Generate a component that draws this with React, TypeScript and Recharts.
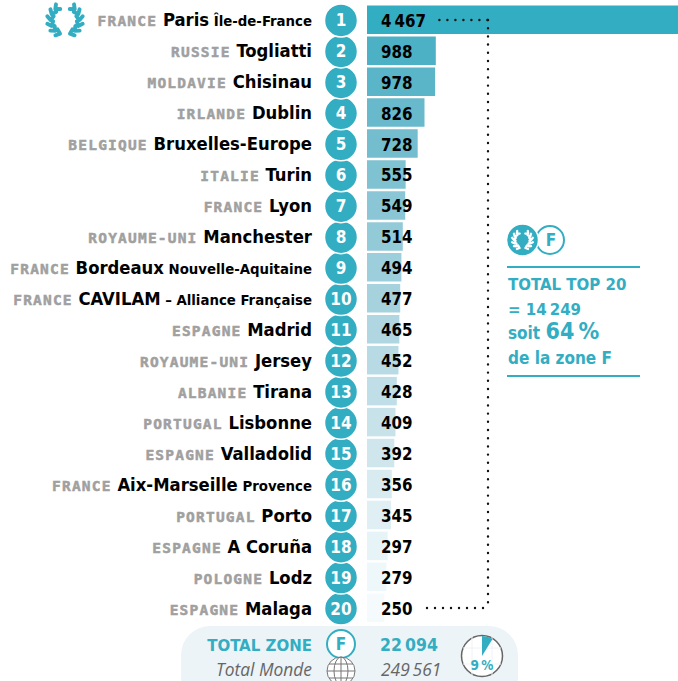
import React from "react";
import { BarChart, Bar, XAxis, YAxis, Cell, LabelList, ReferenceLine, PieChart, Pie } from "recharts";

const ranks = ["1","2","3","4","5","6","7","8","9","10","11","12","13","14","15","16","17","18","19","20"];
const countries = ["FRANCE","RUSSIE","MOLDAVIE","IRLANDE","BELGIQUE","ITALIE","FRANCE","ROYAUME-UNI","FRANCE","FRANCE","ESPAGNE","ROYAUME-UNI","ALBANIE","PORTUGAL","ESPAGNE","FRANCE","PORTUGAL","ESPAGNE","POLOGNE","ESPAGNE"];
const cities = ["Paris","Togliatti","Chisinau","Dublin","Bruxelles-Europe","Turin","Lyon","Manchester","Bordeaux","CAVILAM","Madrid","Jersey","Tirana","Lisbonne","Valladolid","Aix-Marseille","Porto","A Coruña","Lodz","Malaga"];
const regions = ["Île-de-France","","","","","","","","Nouvelle-Aquitaine","– Alliance Française","","","","","","Provence","","","",""];
const values = [4467,988,978,826,728,555,549,514,494,477,465,452,428,409,392,356,345,297,279,250];
const zoneTotal = 22094;
const worldTotal = 249561;

const TEAL = "#33adc2";
const COND = "'DejaVu Sans Condensed','DejaVu Sans'";
const MONO = "'DejaVu Sans Mono'";
const fmt = (v: number) => String(v).replace(/\B(?=(\d{3})+$)/g, "\u2009");

const rows = ranks.map((rank, i) => ({ rank, country: countries[i], city: cities[i], region: regions[i], value: values[i] }));
const chartRows = [...rows].reverse();
const sharePie = [{ name: "zone", value: zoneTotal }, { name: "rest", value: worldTotal - zoneTotal }];

function shade(i: number) {
  const u = i / 19;
  const r = Math.round(0x33 + (0xf5 - 0x33) * Math.pow(u, 0.7));
  const g = Math.round(0xad + (0xfb - 0xad) * u);
  const b = Math.round(0xc2 + (0xfd - 0xc2) * u);
  return `rgb(${r},${g},${b})`;
}

function RowTick(props: any) {
  const { y, payload } = props;
  const r = rows.find((d) => d.rank === payload.value)!;
  return (
    <g>
      <text x={312} y={y + 6.5} textAnchor="end" fontFamily={COND} fontWeight={700} fontSize={18.3} fill="#000">
        <tspan fontFamily={MONO} fontWeight={700} fontSize={14.5} letterSpacing={1.2} fill="#a0a0a0" stroke="#a0a0a0" strokeWidth={0.5}>{r.country}</tspan>
        <tspan> {r.city}</tspan>
        {r.region ? <tspan fontSize={14.8}> {r.region}</tspan> : null}
      </text>
      <circle cx={341} cy={y + 0.5} r={16.5} fill={TEAL} stroke="#fff" strokeWidth={1.5} />
      <text x={341} y={y + 6.5} textAnchor="middle" fontFamily={COND} fontWeight={700} fontSize={17} fill="#fff">{r.rank}</text>
    </g>
  );
}

const laurelAngles = [-48, -24, 0, 24, 48, 70];

function Laurel({ cx, cy, s, color }: { cx: number; cy: number; s: number; color: string }) {
  const parts: React.ReactNode[] = [];
  const L = s * 0.34;
  const w = s * 0.27;
  [-1, 1].forEach((side) => {
    laurelAngles.forEach((deg, i) => {
      const th = (deg * Math.PI) / 180;
      const nx = cx + side * s * Math.cos(th);
      const ny = cy + s * Math.sin(th);
      const base = Math.atan2(-Math.cos(th), side * Math.sin(th));
      const spread = (40 * Math.PI) / 180;
      const t1x = nx + L * Math.cos(base + spread), t1y = ny + L * Math.sin(base + spread);
      const t2x = nx + L * Math.cos(base - spread), t2y = ny + L * Math.sin(base - spread);
      parts.push(
        <path key={`${side}-${i}`} d={`M${t1x} ${t1y}L${nx} ${ny}L${t2x} ${t2y}`} fill="none" stroke={color} strokeWidth={w} strokeLinecap="round" strokeLinejoin="round" />
      );
    });
  });
  return <g>{parts}</g>;
}

export default function App() {
  return (
    <div style={{ position: "absolute", left: 0, top: 0, width: 678, height: 681, overflow: "hidden", background: "#fff" }}>
      <div style={{ position: "absolute", left: 0, top: 0 }}>
        <BarChart width={678} height={681} data={chartRows} layout="vertical" margin={{ top: 4.5, right: 0, bottom: 57.5, left: 0 }} barSize={28.5}>
          <XAxis type="number" hide domain={[0, 4467]} />
          <YAxis type="category" dataKey="rank" reversed width={367} axisLine={false} tickLine={false} interval={0} tick={RowTick} />
          <Bar dataKey="value" isAnimationActive={false}>
            {chartRows.map((d) => <Cell key={d.rank} fill={shade(Number(d.rank) - 1)} />)}
            <LabelList dataKey="value" position="insideLeft" offset={14} formatter={(v: number) => fmt(v)} style={{ fontFamily: COND, fontWeight: 700, fontSize: 16.8, fill: "#000" }} dy={1} />
          </Bar>
          <ReferenceLine ifOverflow="visible" segment={[{ x: 1040, y: "1" }, { x: 1738, y: "1" }]} stroke="#111" strokeWidth={2.4} strokeLinecap="round" strokeDasharray="0 8" />
          <ReferenceLine ifOverflow="visible" segment={[{ x: 1738, y: "1" }, { x: 1738, y: "20" }]} stroke="#111" strokeWidth={2.4} strokeLinecap="round" strokeDasharray="0 8.2" />
          <ReferenceLine ifOverflow="visible" segment={[{ x: 862, y: "20" }, { x: 1738, y: "20" }]} stroke="#111" strokeWidth={2.4} strokeLinecap="round" strokeDasharray="0 8" />
        </BarChart>
      </div>

      <svg width={678} height={681} style={{ position: "absolute", left: 0, top: 0 }}>
        <Laurel cx={65} cy={20} s={14.5} color={TEAL} />

        <circle cx={550} cy={240} r={14} fill="#fff" stroke={TEAL} strokeWidth={2} />
        <text x={551} y={246} textAnchor="middle" fontFamily={COND} fontWeight={700} fontSize={17} fill={TEAL}>F</text>
        <circle cx={522.5} cy={240} r={16} fill={TEAL} stroke="#fff" strokeWidth={1.5} />
        <Laurel cx={522.5} cy={240} s={8.5} color="#fff" />
        <line x1={507} x2={640} y1={267} y2={267} stroke={TEAL} strokeWidth={2} />
        <line x1={507} x2={640} y1={376} y2={376} stroke={TEAL} strokeWidth={2} />
        <g fontFamily={COND} fontWeight={700} fill={TEAL} fontSize={17}>
          <text x={508} y={290} fontSize={16.7}>TOTAL TOP 20</text>
          <text x={508} y={314.5} fontSize={16.7}>= 14{"\u2009"}249</text>
          <text x={508} y={339}>soit <tspan fontSize={23}>64{"\u2009"}%</tspan></text>
          <text x={508} y={364}>de la zone F</text>
        </g>

        <rect x={181} y={626} width={337} height={80} rx={29} fill="#ecf4f8" />
        <text x={312} y={651} textAnchor="end" fontFamily={COND} fontWeight={700} fontSize={16.7} fill={TEAL}>TOTAL ZONE</text>
        <text x={312} y={676} textAnchor="end" fontFamily="'Open Sans'" fontStyle="italic" fontSize={17.4} fill="#666">Total Monde</text>
        <circle cx={341} cy={644} r={14} fill="#fff" stroke={TEAL} strokeWidth={2} />
        <text x={341} y={650} textAnchor="middle" fontFamily={COND} fontWeight={700} fontSize={17} fill={TEAL}>F</text>
        <g fill="none" stroke="#777" strokeWidth={1}>
          <circle cx={341} cy={671} r={14} fill="#fff" />
          <ellipse cx={341} cy={671} rx={7} ry={14} />
          <line x1={341} x2={341} y1={657} y2={685} />
          <line x1={327} x2={355} y1={671} y2={671} />
          <line x1={329} x2={353} y1={664} y2={664} />
          <line x1={329} x2={353} y1={678} y2={678} />
        </g>
        <text x={380} y={651} fontFamily={COND} fontWeight={700} fontSize={17.5} fill={TEAL}>{fmt(zoneTotal)}</text>
        <text x={381} y={676} fontFamily="'Open Sans'" fontStyle="italic" fontSize={17.4} fill="#666">{fmt(worldTotal)}</text>
        <circle cx={482} cy={656} r={20.5} fill="#fff" stroke="#666" strokeWidth={1.5} />
        <g stroke="#eef2f5" strokeWidth={1}>
          <line x1={463} x2={501} y1={648} y2={648} />
          <line x1={463} x2={501} y1={664} y2={664} />
          <line x1={472} x2={472} y1={637} y2={675} />
          <line x1={492} x2={492} y1={637} y2={675} />
        </g>
        <text x={482} y={670} textAnchor="middle" fontFamily={COND} fontWeight={700} fontSize={13.5} fill={TEAL}>9{"\u2009"}%</text>
      </svg>

      <div style={{ position: "absolute", left: 461, top: 635 }}>
        <PieChart width={42} height={42} margin={{ top: 0, right: 0, bottom: 0, left: 0 }}>
          <Pie data={sharePie} dataKey="value" cx={21} cy={21} innerRadius={0} outerRadius={20} startAngle={90} endAngle={-270} stroke="none" isAnimationActive={false}>
            <Cell fill={TEAL} />
            <Cell fill="transparent" />
          </Pie>
        </PieChart>
      </div>
    </div>
  );
}
